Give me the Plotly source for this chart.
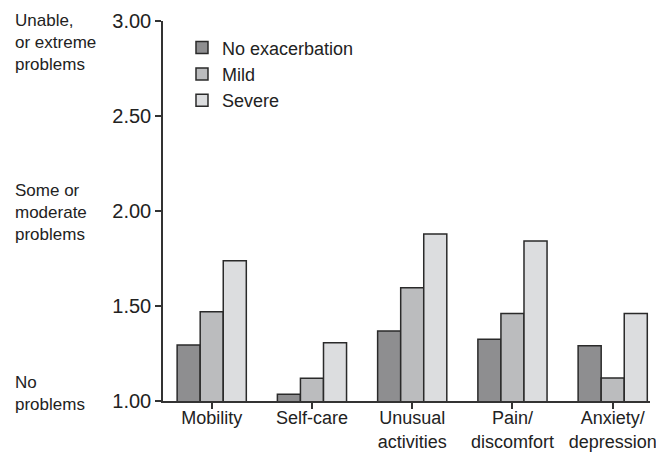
import plotly.graph_objects as go

categories = ["Mobility", "Self-care", "Unusual<br>activities", "Pain/<br>discomfort", "Anxiety/<br>depression"]
no_exacerbation = [1.295, 1.035, 1.368, 1.325, 1.291]
mild = [1.47, 1.12, 1.596, 1.46, 1.121]
severe = [1.738, 1.307, 1.879, 1.842, 1.461]
series_names = ["No exacerbation", "Mild", "Severe"]
series_colors = ["#8e8e90", "#bbbcbe", "#dcdddf"]
y_ticks = [1.0, 1.5, 2.0, 2.5, 3.0]
y_tick_labels = ["1.00", "1.50", "2.00", "2.50", "3.00"]
side_labels = ["Unable,<br>or extreme<br>problems", "Some or<br>moderate<br>problems", "No<br>problems"]
side_label_y = [2.885, 1.99, 1.037]

FONT = "Liberation Sans, Arial, Helvetica, sans-serif"
x_idx = list(range(len(categories)))

fig = go.Figure()
for name, vals, col in zip(series_names, [no_exacerbation, mild, severe], series_colors):
    fig.add_trace(go.Bar(
        x=x_idx, y=vals, name=name,
        marker=dict(color=col, line=dict(color="#2a2a2a", width=1.5)),
    ))

for txt, yy in zip(side_labels, side_label_y):
    fig.add_annotation(
        x=-0.309, xref="paper", y=yy, yref="y",
        text=txt, showarrow=False, xanchor="left", yanchor="middle",
        align="left", font=dict(family=FONT, size=17, color="#222222"),
    )

fig.update_layout(
    width=656, height=445,
    margin=dict(l=155, r=14, t=13, b=52),
    paper_bgcolor="white", plot_bgcolor="white",
    barmode="group", bargap=0.31, bargroupgap=0,
    font=dict(family=FONT, size=18, color="#222222"),
    showlegend=True,
    legend=dict(
        x=0.039, y=0.978, xanchor="left", yanchor="top",
        bgcolor="rgba(0,0,0,0)", font=dict(size=18, family=FONT, color="#222222"),
        itemwidth=30, tracegroupgap=0,
    ),
    xaxis=dict(
        range=[-0.486, 4.372], tickmode="array", tickvals=x_idx, ticktext=categories,
        showline=True, linecolor="#333333", linewidth=1.5,
        ticks="outside", ticklen=6, tickcolor="#333333", tickwidth=1.5,
        showgrid=False, zeroline=False, automargin=False, ticklabelstandoff=-6,
        tickfont=dict(size=18, family=FONT, color="#222222"),
    ),
    yaxis=dict(
        range=[1.0, 3.0], tickmode="array", tickvals=y_ticks, ticktext=y_tick_labels,
        showline=True, linecolor="#333333", linewidth=1.5,
        ticks="outside", ticklen=6, tickcolor="#333333", tickwidth=1.5,
        showgrid=False, zeroline=False, automargin=False, ticklabelstandoff=0,
        tickfont=dict(size=20, family=FONT, color="#222222"),
    ),
)

fig.write_html("out.html")
